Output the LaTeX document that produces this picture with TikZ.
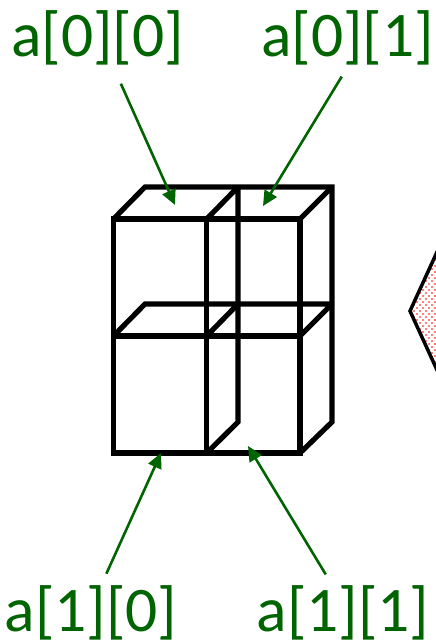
\documentclass[tikz,border=0pt]{standalone}
\usepackage{fontspec}
\setmainfont{Carlito}
\usepackage{tikz}
\usetikzlibrary{patterns,arrows.meta}
\definecolor{labelgreen}{RGB}{0,100,0}
\pgfdeclarepatternformonly{reddots}{\pgfqpoint{-1pt}{-1pt}}{\pgfqpoint{5pt}{5pt}}{\pgfqpoint{6pt}{6pt}}{
  \pgfpathcircle{\pgfqpoint{0pt}{0pt}}{0.9pt}
  \pgfpathcircle{\pgfqpoint{3pt}{3pt}}{0.9pt}
  \pgfusepath{fill}}

\begin{document}
\begin{tikzpicture}[x=1pt,y=-1pt,
  cell/.style={line width=5.2pt,line cap=butt,line join=miter,miter limit=2},
  pointer/.style={labelgreen,line width=2.6pt,-{Triangle[length=15pt,width=14pt]}},
  idxlabel/.style={labelgreen,inner sep=0pt,font=\fontsize{63.5}{70}\selectfont}]
\useasboundingbox (0,0) rectangle (436,641);
\draw[line width=3.5pt,pattern=reddots,pattern color=red] (448,228) -- (410,311) -- (448,394);
\draw[cell] (113.5,219) rectangle (300,453);
\draw[cell] (113.5,336) -- (300,336);
\draw[cell] (206.7,219) -- (206.7,453);
\draw[cell] (113.5,219) -- (145,187) -- (332,187) -- (332,422) -- (300,453);
\draw[cell] (206.7,219) -- (238,187) -- (238,422) -- (206.7,453);
\draw[cell] (300,219) -- (332,187);
\draw[cell] (113.5,336) -- (145,304) -- (332,304) -- (300,336);
\draw[cell] (206.7,336) -- (238,304);
\node[idxlabel] (a00) at (97.5,38) {a[0][0]};
\node[idxlabel] (a01) at (347.5,38) {a[0][1]};
\node[idxlabel] (a10) at (91,613) {a[1][0]};
\node[idxlabel] (a11) at (343,613) {a[1][1]};
\coordinate (t00) at (175,205);
\coordinate (t01) at (263,206);
\coordinate (t10) at (161,453);
\coordinate (t11) at (248,446);
\draw[pointer,shorten <=20pt] (a00.-61) -- (t00);
\draw[pointer,shorten <=13pt] (a01.-88) -- (t01);
\draw[pointer,shorten <=13pt] (a10.70) -- (t10);
\draw[pointer,shorten <=13pt] (a11.111) -- (t11);
\end{tikzpicture}
\end{document}
